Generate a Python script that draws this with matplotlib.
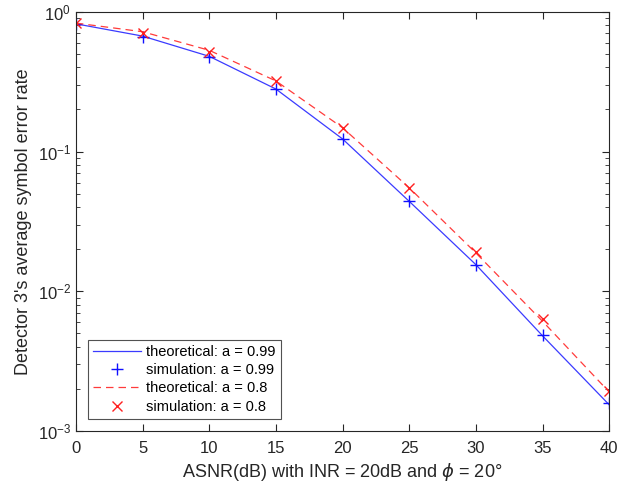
import matplotlib
matplotlib.use("Agg")
import matplotlib.pyplot as plt
from matplotlib.ticker import LogLocator, NullFormatter

plt.rcParams['font.family'] = ['Liberation Sans', 'DejaVu Sans']
plt.rcParams['mathtext.fontset'] = 'dejavusans'

asnr = [0, 5, 10, 15, 20, 25, 30, 35, 40]
theory_099 = [0.82, 0.67, 0.48, 0.28, 0.123, 0.044, 0.0155, 0.0048, 0.00154]
sim_099 = [0.82, 0.66, 0.475, 0.28, 0.122, 0.0445, 0.0155, 0.0049, 0.00158]
theory_08 = [0.83, 0.72, 0.53, 0.32, 0.148, 0.055, 0.0188, 0.0061, 0.0019]
sim_08 = [0.83, 0.71, 0.515, 0.318, 0.148, 0.055, 0.0190, 0.0063, 0.00195]
xticks = [0, 5, 10, 15, 20, 25, 30, 35, 40]

fig = plt.figure(figsize=(6.38, 4.91), dpi=100)
ax = fig.add_axes([0.119, 0.122, 0.836, 0.854])

ax.plot(asnr, theory_099, '-', color='#3b3bff', lw=0.9, label='theoretical: a = 0.99')
ax.plot(asnr, sim_099, '+', color='#1010ff', ms=9, mew=1.0, linestyle='none', label='simulation: a = 0.99')
ax.plot(asnr, theory_08, '--', color='#ff3b3b', lw=0.9, dashes=(6, 4), label='theoretical: a = 0.8')
ax.plot(asnr, sim_08, 'x', color='#ff2020', ms=7, mew=1.0, linestyle='none', label='simulation: a = 0.8')

ax.set_yscale('log')
ax.set_xlim(0, 40)
ax.set_ylim(1e-3, 1)
ax.set_xticks(xticks)
ax.set_xticklabels([str(v) for v in xticks])
ax.yaxis.set_minor_locator(LogLocator(base=10, subs=range(2, 10)))
ax.yaxis.set_minor_formatter(NullFormatter())
ax.tick_params(which='both', direction='in', top=True, right=True, labelsize=12, colors='#262626')
ax.tick_params(which='major', length=5, width=0.8)
ax.tick_params(which='minor', length=3, width=0.6)
ax.tick_params(axis='x', pad=7)
for s in ax.spines.values():
    s.set_color('#262626')
    s.set_linewidth(0.8)

ax.set_xlabel(r'ASNR(dB) with INR = 20dB and $\phi$ = 20°', fontsize=13, color='#262626')
ax.set_ylabel("Detector 3's average symbol error rate", fontsize=13, color='#262626')

leg = ax.legend(loc='lower left', bbox_to_anchor=(0.022, 0.029), fontsize=10.5, frameon=True,
                fancybox=False, edgecolor='#262626', borderpad=0.35, labelspacing=0.3,
                handlelength=3.3, handletextpad=0.35, borderaxespad=0)
leg.get_frame().set_linewidth(0.8)

fig.savefig('out.png', dpi=100)
